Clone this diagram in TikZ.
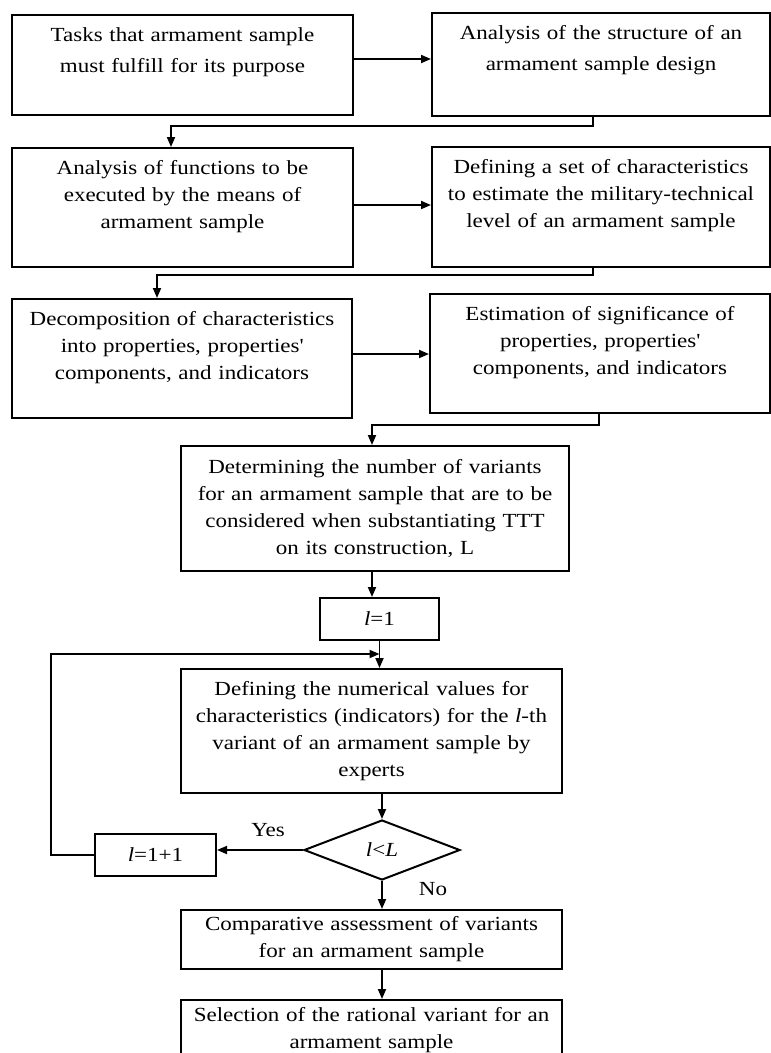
\documentclass[tikz,border=0pt]{standalone}
\usepackage{fontspec}
\setmainfont{Liberation Serif}[FakeStretch=1.15]
\usetikzlibrary{arrows.meta,shapes.geometric}

\tikzset{
  box/.style={draw, line width=2pt, align=center, inner xsep=4pt},
  upbox/.style={box, anchor=north, inner ysep=0pt, text height=26pt, text depth=#1},
  midbox/.style={box, inner ysep=0pt},
  arr/.style={line width=1.8pt, -{Triangle[length=10pt,width=8pt]}},
  lbl/.style={inner sep=0pt}
}

\begin{document}
\begin{tikzpicture}[x=1pt,y=1pt,font=\fontsize{20}{27}\selectfont]
\useasboundingbox (0,0) rectangle (771,-1053);
% upper pairs of boxes
\node[upbox=74pt, text width=333pt] (b1) at (182.5,-14)
  {Tasks that armament sample\\[4pt] must fulfill for its purpose};
\node[upbox=77pt, text width=330pt] (b2) at (601,-12)
  {Analysis of the structure of an\\[4pt] armament sample design};
\node[upbox=93pt, text width=333pt] (b3) at (182.5,-147)
  {Analysis of functions to be\\ executed by the means of\\ armament sample};
\node[upbox=94pt, text width=330pt] (b4) at (601,-146)
  {Defining a set of characteristics\\ to estimate the military-technical\\ level of an armament sample};
\node[upbox=93pt, text width=332pt] (b5) at (182,-298)
  {Decomposition of characteristics\\ into properties, properties\textquotesingle\\ components, and indicators};
\node[upbox=93pt, text width=332pt] (b6) at (600,-293)
  {Estimation of significance of\\ properties, properties\textquotesingle\\ components, and indicators};
% main column
\node[midbox, text width=380pt, minimum height=125pt] (b7) at (375,-508.5)
  {Determining the number of variants\\ for an armament sample that are to be\\ considered when substantiating TTT\\ on its construction, L};
\node[midbox, text width=111pt, minimum height=42pt] (lone) at (379.5,-619)
  {\textit{l}=1};
\node[midbox, text width=373pt, minimum height=124pt] (b8) at (371.5,-731)
  {Defining the numerical values for\\ characteristics (indicators) for the \textit{l}-th\\ variant of an armament sample by\\ experts};
\node[draw, line width=2pt, diamond, aspect=2.6, inner sep=0pt,
  minimum width=156pt, minimum height=60pt] (dia) at (382,-850)
  {\textit{l}<\textit{L}};
\node[midbox, text width=113pt, minimum height=42pt] (linc) at (155.5,-855)
  {\textit{l}=1+1};
\node[midbox, text width=373pt, minimum height=59pt] (b9) at (371.5,-939.5)
  {Comparative assessment of variants\\ for an armament sample};
\node[midbox, text width=373pt, minimum height=60pt] (b10) at (371.5,-1030)
  {Selection of the rational variant for an\\ armament sample};
\node[lbl] (yes) at (268,-830) {Yes};
\node[lbl] (no) at (433,-889) {No};
\coordinate (join) at (lone.south |- 0,-654);

% connectors
\draw[arr] ([yshift=6pt]b1.east) -- ([yshift=6pt]b1.east -| b2.west);
\draw[arr] ([yshift=2.5pt]b3.east) -- ([yshift=2.5pt]b3.east -| b4.west);
\draw[arr] ([yshift=4.5pt]b5.east) -- ([yshift=4.5pt]b5.east -| b6.west);
\draw[arr] ([xshift=-8pt]b2.south) -- ++(0,-9) -| ([xshift=-11.5pt]b3.north);
\draw[arr] ([xshift=-8pt]b4.south) -- ++(0,-7) -| ([xshift=-25pt]b5.north);
\draw[arr] ([xshift=-1pt]b6.south) -- ++(0,-11) -| ([xshift=-3pt]b7.north);
\draw[arr] ([xshift=-3pt]b7.south) -- ([xshift=-3pt]b7.south |- lone.north);
\draw[arr] (lone.south) -- (lone.south |- b8.north);
\draw[arr] (linc.west) -- ++(-43,0) |- (join);
\draw[arr] (b8.south -| dia.north) -- (dia.north);
\draw[arr] (dia.west) -- (dia.west -| linc.east);
\draw[arr] (dia.south) -- (dia.south |- b9.north);
\draw[arr] (b9.south -| dia.south) -- (b10.north -| dia.south);
\end{tikzpicture}
\end{document}
